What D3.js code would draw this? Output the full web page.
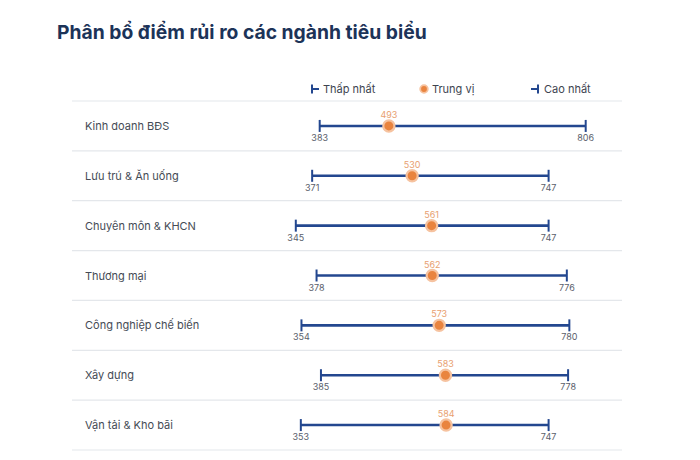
<!DOCTYPE html>
<html>
<head>
<meta charset="utf-8">
<script src="https://cdn.jsdelivr.net/npm/d3@7/dist/d3.min.js"></script>
<style>
  html, body { margin: 0; padding: 0; background: #ffffff; }
  svg { display: block; }
</style>
</head>
<body>
<svg id="chart" width="700" height="460"></svg>
<script>
const title = "Phân bổ điểm rủi ro các ngành tiêu biểu";
const categories = ["Kinh doanh BĐS", "Lưu trú & Ăn uống", "Chuyên môn & KHCN", "Thương mại", "Công nghiệp chế biến", "Xây dựng", "Vận tải & Kho bãi"];
const minValues = [383, 371, 345, 378, 354, 385, 353];
const medianValues = [493, 530, 561, 562, 573, 583, 584];
const maxValues = [806, 747, 747, 776, 780, 778, 747];
const legendLabels = ["Thấp nhất", "Trung vị", "Cao nhất"];

const navy = "#23478f";
const orange = "#e9843f";
const orangeRing = "#f6c3a0";
const orangeText = "#e8a070";

const svg = d3.select("#chart");

svg.append("text")
  .attr("x", 57).attr("y", 39)
  .attr("font-family", "Inter, 'Noto Sans', sans-serif")
  .attr("font-weight", 700)
  .attr("font-size", 19.3)
  .attr("fill", "#1c3358")
  .text(title);

const x = d3.scaleLinear().domain([345, 806]).range([295.8, 585.7]);
const y = d3.scaleBand().domain(categories).range([101, 450]).padding(0);

// dividers
const edges = categories.map(c => y(c)).concat([y.range()[1]]);
svg.append("g").selectAll("line").data(edges).join("line")
  .attr("x1", 72).attr("x2", 622)
  .attr("y1", d => d).attr("y2", d => d)
  .attr("stroke", "#e4e7eb").attr("stroke-width", 1.2);

// legend
const lg = svg.append("g").attr("font-family", "Inter, 'Noto Sans', sans-serif").attr("font-size", 11).attr("fill", "#3d4450");
const ly = 89;
lg.append("line").attr("x1", 312).attr("x2", 312).attr("y1", ly - 4.5).attr("y2", ly + 4.5).attr("stroke", navy).attr("stroke-width", 2);
lg.append("line").attr("x1", 312).attr("x2", 319).attr("y1", ly).attr("y2", ly).attr("stroke", navy).attr("stroke-width", 2);
lg.append("text").attr("x", 323).attr("y", ly + 4).text(legendLabels[0]);
lg.append("circle").attr("cx", 424).attr("cy", ly).attr("r", 3.8).attr("fill", orange).attr("stroke", orangeRing).attr("stroke-width", 1.8);
lg.append("text").attr("x", 432).attr("y", ly + 4).text(legendLabels[1]);
lg.append("line").attr("x1", 531).attr("x2", 538).attr("y1", ly).attr("y2", ly).attr("stroke", navy).attr("stroke-width", 2);
lg.append("line").attr("x1", 538).attr("x2", 538).attr("y1", ly - 4.5).attr("y2", ly + 4.5).attr("stroke", navy).attr("stroke-width", 2);
lg.append("text").attr("x", 544).attr("y", ly + 4).text(legendLabels[2]);

const rows = categories.map((c, i) => ({ cat: c, min: minValues[i], med: medianValues[i], max: maxValues[i] }));
const g = svg.append("g").selectAll("g").data(rows).join("g")
  .attr("transform", d => `translate(0,${y(d.cat) + y.bandwidth() / 2})`);

g.append("text")
  .attr("x", 85).attr("y", 4)
  .attr("font-family", "Inter, 'Noto Sans', sans-serif")
  .attr("font-size", 11).attr("fill", "#454b55")
  .text(d => d.cat);

g.append("line")
  .attr("x1", d => x(d.min)).attr("x2", d => x(d.max))
  .attr("y1", 0).attr("y2", 0)
  .attr("stroke", navy).attr("stroke-width", 2.6);
g.append("line")
  .attr("x1", d => x(d.min)).attr("x2", d => x(d.min))
  .attr("y1", -6).attr("y2", 6)
  .attr("stroke", navy).attr("stroke-width", 2);
g.append("line")
  .attr("x1", d => x(d.max)).attr("x2", d => x(d.max))
  .attr("y1", -6).attr("y2", 6)
  .attr("stroke", navy).attr("stroke-width", 2);

g.append("circle")
  .attr("cx", d => x(d.med)).attr("cy", 0).attr("r", 5.6)
  .attr("fill", orange).attr("stroke", orangeRing).attr("stroke-width", 2.2);

const small = g.append("g").attr("font-family", "Inter, 'Noto Sans', sans-serif").attr("font-size", 9).attr("text-anchor", "middle");
small.append("text").attr("x", d => x(d.med)).attr("y", -8).attr("fill", orangeText).text(d => d.med);
small.append("text").attr("x", d => x(d.min)).attr("y", 15).attr("fill", "#5a606b").text(d => d.min);
small.append("text").attr("x", d => x(d.max)).attr("y", 15).attr("fill", "#5a606b").text(d => d.max);
</script>
</body>
</html>
